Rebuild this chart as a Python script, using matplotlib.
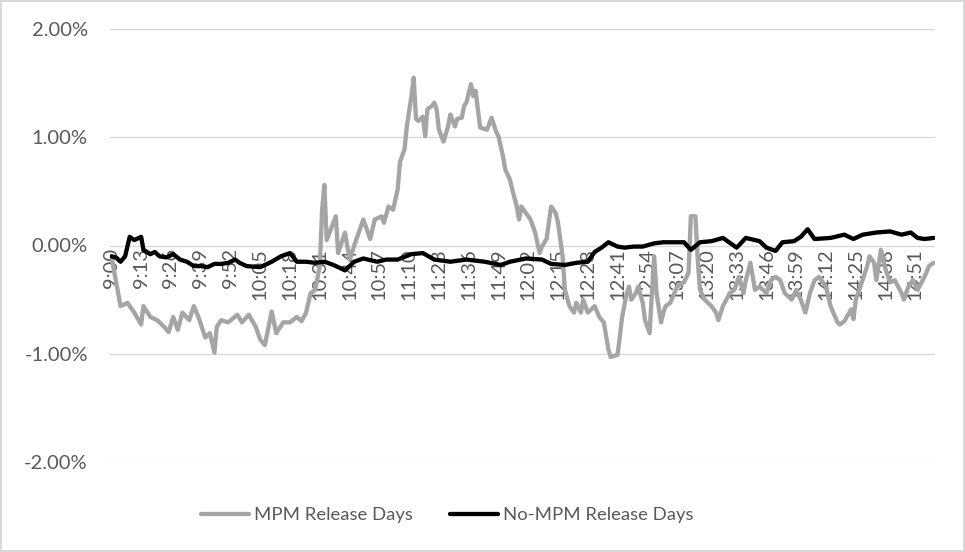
import matplotlib
matplotlib.use("Agg")
import matplotlib.pyplot as plt
from matplotlib.ticker import FuncFormatter

# minutes after 9:00 and cumulative return (%)
mpm_min = [0, 4, 7, 10, 13, 14, 17, 20, 23, 25, 27, 29, 31, 34, 36, 38, 41, 43, 45, 46,
           48, 51, 55, 57, 60, 63, 65, 67, 69, 70, 72, 75, 78, 81, 83, 85, 87, 89, 91, 92,
           93, 94, 98, 99, 102, 104, 107, 110, 113, 115, 118, 119, 121, 123, 125, 126, 128, 129, 131, 132,
           133, 134, 136, 137, 138, 140, 141, 142, 143, 145, 147, 148, 150, 151, 153, 154, 155, 157, 158, 159,
           160, 161, 164, 166, 168, 169, 171, 172, 174, 175, 177, 178, 179, 181, 183, 185, 187, 188, 190, 192,
           194, 195, 197, 198, 200, 202, 203, 205, 206, 208, 211, 213, 215, 217, 218, 221, 222, 223, 225, 226,
           227, 229, 230, 232, 233, 235, 236, 237, 238, 240, 241, 242, 244, 247, 250, 252, 253, 255, 256, 257,
           259, 262, 264, 265, 267, 270, 272, 274, 276, 277, 279, 281, 283, 286, 288, 290, 292, 294, 297, 299,
           301, 303, 305, 307, 309, 312, 314, 317, 318, 320, 323, 324, 325, 327, 330, 331, 333, 334, 336, 338,
           340, 342, 345, 346, 348, 350, 352, 355, 357, 359]
mpm_val = [-0.10, -0.56, -0.53, -0.62, -0.73, -0.56, -0.66, -0.69, -0.75, -0.80, -0.66, -0.78, -0.62, -0.69, -0.56, -0.66, -0.85, -0.81, -0.99, -0.75,
           -0.69, -0.71, -0.64, -0.71, -0.64, -0.75, -0.87, -0.92, -0.71, -0.61, -0.81, -0.71, -0.71, -0.66, -0.70, -0.62, -0.44, -0.41, -0.19, 0.33,
           0.56, 0.05, 0.27, -0.07, 0.12, -0.13, 0.06, 0.24, 0.06, 0.24, 0.27, 0.21, 0.36, 0.33, 0.52, 0.77, 0.89, 1.10, 1.38, 1.55,
           1.17, 1.15, 1.19, 1.01, 1.26, 1.29, 1.32, 1.26, 1.07, 0.96, 1.10, 1.21, 1.10, 1.17, 1.18, 1.29, 1.32, 1.49, 1.38, 1.43,
           1.26, 1.09, 1.07, 1.18, 1.05, 1.01, 0.82, 0.70, 0.61, 0.52, 0.36, 0.24, 0.36, 0.30, 0.24, 0.12, -0.07, -0.01, 0.06, 0.36,
           0.30, 0.21, -0.10, -0.41, -0.56, -0.62, -0.53, -0.62, -0.50, -0.62, -0.56, -0.66, -0.71, -0.96, -1.03, -1.01, -0.84, -0.66, -0.44, -0.38,
           -0.50, -0.44, -0.38, -0.53, -0.69, -0.81, -0.44, -0.10, -0.44, -0.71, -0.62, -0.56, -0.53, -0.38, -0.34, -0.25, 0.27, 0.27, -0.13, -0.41,
           -0.50, -0.56, -0.62, -0.69, -0.56, -0.44, -0.41, -0.29, -0.44, -0.32, -0.16, -0.41, -0.38, -0.44, -0.32, -0.29, -0.32, -0.44, -0.50, -0.41,
           -0.50, -0.62, -0.44, -0.32, -0.29, -0.38, -0.56, -0.71, -0.73, -0.70, -0.59, -0.68, -0.50, -0.38, -0.19, -0.10, -0.16, -0.32, -0.04, -0.22,
           -0.34, -0.32, -0.44, -0.50, -0.38, -0.32, -0.41, -0.29, -0.19, -0.16]

nompm_min = [0, 2, 4, 6, 8, 10, 13, 14, 17, 19, 21, 24, 27, 30, 33, 36, 39, 42, 45, 48,
             51, 54, 56, 59, 65, 70, 74, 78, 81, 85, 89, 93, 97, 102, 106, 110, 116, 120, 125, 131,
             136, 141, 148, 155, 163, 170, 174, 181, 188, 192, 198, 203, 208, 211, 214, 217, 221, 224, 228, 232,
             237, 241, 247, 250, 253, 257, 262, 267, 273, 277, 283, 286, 290, 293, 298, 301, 304, 307, 314, 320,
             324, 328, 334, 340, 345, 349, 352, 355, 359]
nompm_val = [-0.10, -0.11, -0.15, -0.10, 0.08, 0.05, 0.08, -0.04, -0.08, -0.06, -0.10, -0.11, -0.08, -0.13, -0.15, -0.19, -0.19, -0.20, -0.17, -0.17,
             -0.16, -0.13, -0.16, -0.19, -0.20, -0.15, -0.10, -0.07, -0.15, -0.15, -0.16, -0.15, -0.18, -0.23, -0.15, -0.12, -0.15, -0.13, -0.13, -0.08,
             -0.07, -0.13, -0.15, -0.13, -0.15, -0.18, -0.15, -0.12, -0.13, -0.17, -0.18, -0.16, -0.15, -0.06, -0.02, 0.03, -0.01, -0.02, -0.01, -0.01,
             0.02, 0.03, 0.03, 0.03, -0.04, 0.03, 0.04, 0.07, -0.02, 0.07, 0.04, -0.02, -0.05, 0.03, 0.04, 0.08, 0.15, 0.06, 0.07, 0.10,
             0.06, 0.10, 0.12, 0.13, 0.10, 0.12, 0.07, 0.06, 0.07]

tick_step = 13  # one label every 13 minutes, 9:00 ... 14:51
tick_pos = list(range(0, 352, tick_step))
y_ticks = [-2, -1, 0, 1, 2]

txt = "#595959"
plt.rcParams['font.family'] = ['Lato', 'DejaVu Sans']

fig = plt.figure(figsize=(9.65, 5.52), dpi=100)
fig.patch.set_facecolor("white")
fig.patch.set_edgecolor("#d9d9d9")
fig.patch.set_linewidth(1.5)
ax = fig.add_axes([110 / 965, 1 - 462 / 552, 825 / 965, 433 / 552])

ax.plot(mpm_min, mpm_val, color="#a5a5a5", lw=3.1, solid_joinstyle="round",
        solid_capstyle="round", label="MPM Release Days", zorder=3)
ax.plot(nompm_min, nompm_val, color="#000000", lw=3.1, solid_joinstyle="round",
        solid_capstyle="round", label="No-MPM Release Days", zorder=4)

ax.set_ylim(-2, 2)
ax.set_xlim(-0.6, 359.6)
ax.set_yticks(y_ticks)
ax.yaxis.set_major_formatter(FuncFormatter(lambda v, p: f"{v:.2f}%"))
ax.grid(axis="y", color="#d9d9d9", lw=1)
ax.set_axisbelow(True)

ax.set_xticks(tick_pos)
ax.set_xticklabels([f"{9 + m // 60}:{m % 60:02d}" for m in tick_pos])
ax.spines["bottom"].set_position(("data", 0))
for s in ["top", "right", "left", "bottom"]:
    ax.spines[s].set_visible(False)
ax.tick_params(axis="x", length=0, pad=2, labelsize=14.5, labelcolor=txt, labelrotation=90)
ax.tick_params(axis="y", length=0, pad=16, labelsize=14.5, labelcolor=txt)
for lbl in ax.get_xticklabels():
    lbl.set_verticalalignment("top")

leg = fig.legend(loc="center", bbox_to_anchor=(447 / 965, 1 - 515 / 552), ncol=2, frameon=False,
                 fontsize=13.3, handlelength=2.6, handletextpad=0.27, columnspacing=2.0)
for t in leg.get_texts():
    t.set_color(txt)

fig.savefig("out.png", dpi=100)
